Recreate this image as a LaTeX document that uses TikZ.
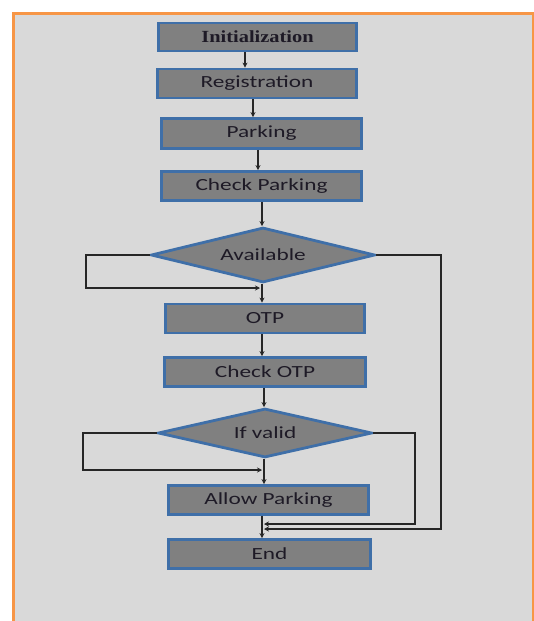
\documentclass[tikz,border=0pt]{standalone}
\usepackage{fontspec}
\setmainfont{Liberation Serif}
\setsansfont{Carlito}
\newfontfamily\timesfam{Liberation Serif}
\usetikzlibrary{shapes.geometric,arrows.meta,calc}
\definecolor{bg}{HTML}{D9D9D9}
\definecolor{frameorange}{HTML}{F79646}
\definecolor{boxfill}{HTML}{808080}
\definecolor{boxline}{HTML}{3F6FA8}
\definecolor{txt}{HTML}{1E1A26}
\definecolor{conn}{HTML}{262626}
\newcommand{\wsans}[1]{\scalebox{1.37}[1]{\sffamily #1}}
\newcommand{\wserif}[1]{\scalebox{1.2}[1]{\timesfam\bfseries #1}}
\begin{document}
\begin{tikzpicture}[x=1pt,y=-1pt,
  flowbox/.style={draw=boxline,fill=boxfill,line width=2.8pt,rectangle,inner sep=0pt,
    minimum width=199pt,minimum height=29pt,text=txt,font=\fontsize{17}{20}\selectfont},
  decbox/.style={draw=boxline,fill=boxfill,line width=2.8pt,diamond,aspect=4,inner sep=0pt,
    text=txt,font=\fontsize{17}{20}\selectfont},
  arr/.style={draw=conn,line width=1.2pt,-{Stealth[length=5pt,width=5pt]}},
  ln/.style={draw=conn,line width=1.2pt}]
\useasboundingbox (0,0) rectangle (534,621);
\fill[white] (0,0) rectangle (534,621);
\begin{scope}
\clip (0,0) rectangle (534,621);
\draw[fill=bg,draw=frameorange,line width=3pt] (13.5,13.5) rectangle (533,640);
\end{scope}

\node[flowbox,minimum width=198pt,minimum height=28pt] (init) at (257.5,37) {\wserif{Initialization}};
\node[flowbox] (reg) at (257,83.5) {\wsans{Registration}};
\node[flowbox,minimum width=200pt,minimum height=30pt] (park) at (261.5,133.5) {\wsans{Parking}};
\node[flowbox,minimum width=200pt] (chkp) at (261.5,186) {\wsans{Check Parking}};
\node[decbox,minimum width=224pt,minimum height=55pt] (avail) at (263,255) {\wsans{Available}};
\node[flowbox] (otp) at (265,318.5) {\wsans{OTP}};
\node[flowbox,minimum width=201pt] (chko) at (265,372) {\wsans{Check OTP}};
\node[decbox,minimum width=214pt,minimum height=49pt] (valid) at (265,433) {\wsans{If valid}};
\node[flowbox,minimum width=200pt] (allow) at (268.5,500) {\wsans{Allow Parking}};
\node[flowbox,minimum width=202pt] (end) at (269.5,554) {\wsans{End}};

% straight arrows
\draw[arr] ([xshift=-12.5pt]init.south) -- ([xshift=-12.5pt]init.south |- reg.north);
\draw[arr] ([xshift=-4pt]reg.south) -- ([xshift=-4pt]reg.south |- park.north);
\draw[arr] ([xshift=-3.5pt]park.south) -- ([xshift=-3.5pt]park.south |- chkp.north);
\draw[arr] ([xshift=0.5pt]chkp.south) -- ([xshift=0.5pt]chkp.south |- avail.north);
\draw[arr] ([xshift=-1pt]avail.south) -- ([xshift=-1pt]avail.south |- otp.north);
\draw[arr] ([xshift=-3pt]otp.south) -- ([xshift=-3pt]otp.south |- chko.north);
\draw[arr] ([xshift=-1pt]chko.south) -- ([xshift=-1pt]chko.south |- valid.north);
\draw[arr] ([xshift=-1pt]valid.south) -- ([xshift=-1pt]valid.south |- allow.north);
\draw[arr] ([xshift=-6.5pt]allow.south) -- ([xshift=-6.5pt]allow.south |- end.north);

% loops back
\coordinate (j1) at (260,288);
\draw[arr] (avail.west) -- (86,255) |- (j1);
\coordinate (j2) at (262,470);
\draw[arr] (valid.west) -- (83,433) |- (j2);

% right branches to End
\coordinate (j3) at (264,524);
\draw[arr] (valid.east) -- (415,433) |- (j3);
\coordinate (j4) at (264,529);
\draw[arr] (avail.east) -- (441,255) |- (j4);
\end{tikzpicture}
\end{document}
